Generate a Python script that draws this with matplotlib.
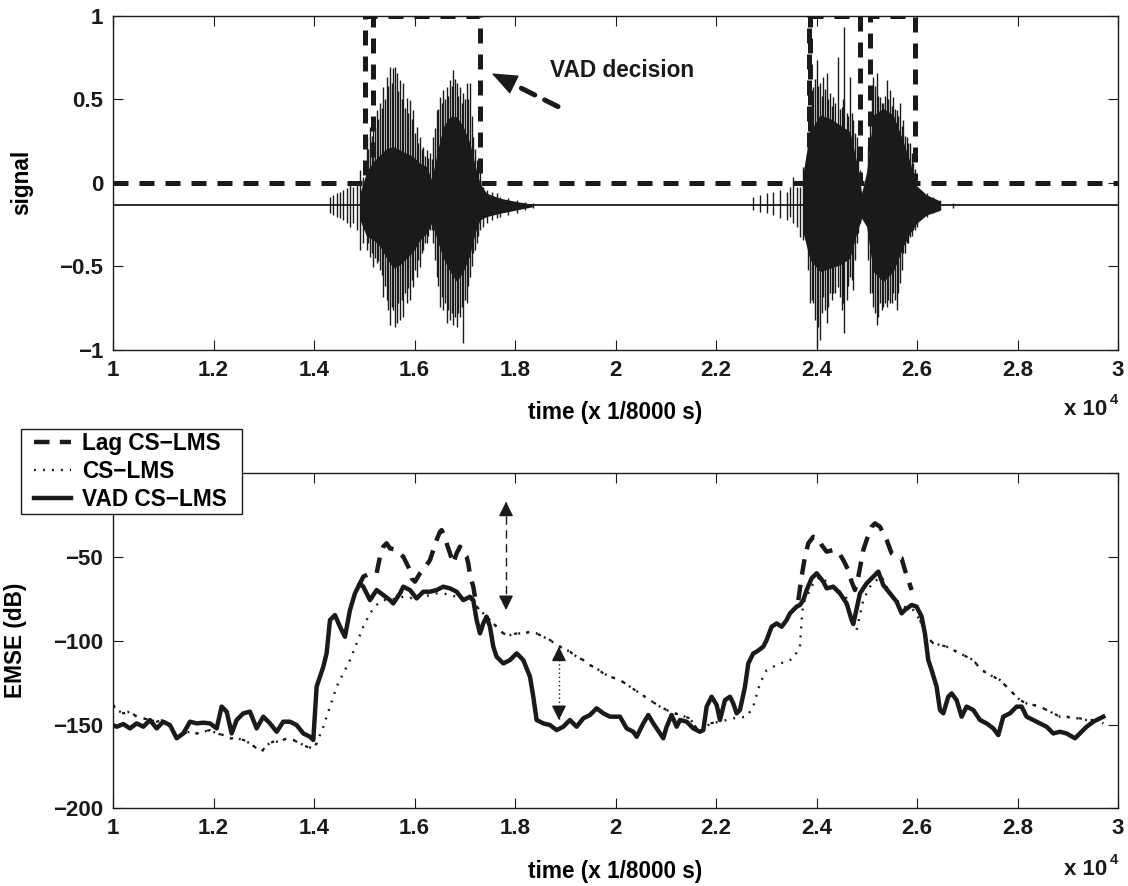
import numpy as np
import matplotlib
matplotlib.use('Agg')
import matplotlib.pyplot as plt
from matplotlib.lines import Line2D
from matplotlib.patches import Rectangle

plt.rcParams['font.family'] = ['Liberation Sans', 'DejaVu Sans']
plt.rcParams['font.weight'] = 'bold'
plt.rcParams['axes.labelweight'] = 'bold'

# ---------------- top panel data ----------------
x_ticks = [10000, 12000, 14000, 16000, 18000, 20000, 22000, 24000, 26000, 28000, 30000]
x_ticklabels = ['1', '1.2', '1.4', '1.6', '1.8', '2', '2.2', '2.4', '2.6', '2.8', '3']
sig_yticks = [-1, -0.5, 0, 0.5, 1]
sig_yticklabels = ['\u22121', '\u22120.5', '0', '0.5', '1']

sig_baseline = -0.135

# speech bursts: spike positions, spike tops and spike bottoms
spk_t = [14318, 14384, 14451, 14517, 14583, 14650, 14716, 14782, 14849, 14915, 14981,
         15048, 15114, 15180, 15247, 15313, 15379, 15446, 15512, 15578, 15611, 15645,
         15711, 15777, 15844, 15910, 15976, 16043, 16109, 16175, 16242, 16308, 16374,
         16441, 16507, 16573, 16640, 16706, 16772, 16839, 16905, 16958, 17038, 17104,
         17170, 17237, 17303, 17369, 17435, 17535, 17635, 17701, 17867, 18033, 18198, 18364,
         22742, 22875, 23008, 23140, 23273, 23406, 23472, 23538, 23605, 23671, 23737,
         23804, 23870, 23936, 24003, 24069, 24135, 24202, 24268, 24334, 24434, 24500,
         24553, 24600, 24666, 24732, 24799, 24865, 24931, 24998, 25064, 25130, 25197,
         25263, 25329, 25396, 25462, 25528, 25595, 25661, 25727, 25794, 25860, 25926,
         25992, 26059, 26192, 26324, 26457, 26722]
spk_hi = [-0.082, -0.072, -0.062, -0.052, -0.042, -0.032, -0.013, -0.023, 0.007, 0.077, 0.037,
          0.277, 0.336, 0.376, 0.436, 0.476, 0.576, 0.635, 0.695, 0.685, 0.695, 0.655,
          0.616, 0.596, 0.506, 0.496, 0.436, 0.336, 0.277, 0.217, 0.197, 0.177, 0.277,
          0.436, 0.516, 0.556, 0.576, 0.616, 0.675, 0.596, 0.576, 0.536, 0.596, 0.596,
          0.277, 0.137, 0.097, -0.023, -0.042, -0.052, -0.062, -0.082, -0.092, -0.102, -0.112, -0.118,
          -0.082, -0.072, -0.062, -0.052, -0.042, -0.052, -0.023, 0.037, -0.023, -0.023, 0.097,
          0.177, 0.396, 0.576, 0.735, 0.596, 0.635, 0.655, 0.536, 0.516, 0.755, 0.456,
          0.934, 0.416, 0.635, 0.376, 0.277, 0.077, -0.042, 0.057, 0.376, 0.635, 0.655,
          0.516, 0.476, 0.616, 0.556, 0.516, 0.436, 0.476, 0.376, 0.277, 0.237, 0.117,
          -0.023, -0.042, -0.062, -0.082, -0.102, -0.118]
spk_lo = [-0.182, -0.192, -0.202, -0.212, -0.222, -0.242, -0.262, -0.242, -0.282, -0.401, -0.361,
          -0.401, -0.441, -0.501, -0.481, -0.521, -0.680, -0.700, -0.850, -0.760, -0.860, -0.840,
          -0.820, -0.800, -0.720, -0.700, -0.621, -0.561, -0.501, -0.401, -0.361, -0.282, -0.361,
          -0.561, -0.740, -0.760, -0.840, -0.820, -0.850, -0.860, -0.800, -0.960, -0.720, -0.561,
          -0.421, -0.361, -0.282, -0.262, -0.242, -0.222, -0.212, -0.202, -0.192, -0.182, -0.162, -0.152,
          -0.162, -0.172, -0.182, -0.192, -0.212, -0.222, -0.202, -0.242, -0.262, -0.322, -0.341,
          -0.361, -0.720, -0.720, -0.990, -0.940, -0.680, -0.840, -0.660, -0.660, -0.621, -0.760,
          -0.900, -0.700, -0.561, -0.640, -0.361, -0.242, -0.202, -0.242, -0.660, -0.740, -0.850,
          -0.720, -0.740, -0.740, -0.720, -0.660, -0.760, -0.601, -0.421, -0.361, -0.322, -0.282,
          -0.262, -0.222, -0.202, -0.182, -0.162, -0.152]

# shorter spikes between the tall ones
spk_mid_t = [15081, 15147, 15213, 15280, 15346, 15413, 15479, 15545, 15678, 15744, 15810,
             15877, 15943, 16009, 16076, 16142, 16208, 16275, 16341, 16407, 16474, 16540,
             16606, 16673, 16739, 16805, 16872, 16938, 17004, 17071, 17137, 17204, 17270,
             23837, 23903, 23969, 24036, 24102, 24168, 24235, 24301, 24367, 24467, 24533,
             24633, 24699, 24765, 24832, 25031, 25097, 25164, 25230, 25296, 25363, 25429,
             25495, 25562, 25628, 25694, 25761, 25827, 25893, 25959]
spk_mid_hi = [0.20, 0.28, 0.33, 0.38, 0.45, 0.50, 0.58, 0.60, 0.55, 0.50, 0.45,
              0.42, 0.38, 0.30, 0.24, 0.20, 0.16, 0.15, 0.14, 0.33, 0.44, 0.48,
              0.50, 0.52, 0.58, 0.62, 0.52, 0.48, 0.50, 0.50, 0.40, 0.20, 0.10,
              0.28, 0.48, 0.62, 0.58, 0.52, 0.56, 0.50, 0.46, 0.48, 0.44, 0.50,
              0.40, 0.42, 0.30, 0.16, 0.22, 0.50, 0.58, 0.52, 0.48, 0.52, 0.50,
              0.46, 0.44, 0.40, 0.34, 0.28, 0.24, 0.18, 0.08]
spk_mid_lo = [-0.36, -0.42, -0.45, -0.47, -0.55, -0.62, -0.76, -0.74, -0.72, -0.70, -0.66,
              -0.63, -0.58, -0.52, -0.46, -0.42, -0.36, -0.32, -0.28, -0.46, -0.62, -0.68,
              -0.72, -0.76, -0.78, -0.80, -0.78, -0.74, -0.70, -0.62, -0.50, -0.40, -0.32,
              -0.52, -0.70, -0.82, -0.86, -0.78, -0.76, -0.74, -0.70, -0.66, -0.68, -0.72,
              -0.62, -0.58, -0.46, -0.30, -0.46, -0.66, -0.78, -0.80, -0.76, -0.72, -0.70,
              -0.72, -0.70, -0.66, -0.52, -0.42, -0.36, -0.32, -0.28]

# dense core of the bursts
core1_t = [14915, 15048, 15180, 15313, 15446, 15578, 15711, 15844, 15976, 16109, 16242, 16341,
           16441, 16573, 16706, 16839, 16971, 17104, 17204, 17303, 17435, 17701, 18033, 18364]
core1_hi = [-0.062, 0.067, 0.127, 0.167, 0.207, 0.217, 0.197, 0.177, 0.157, 0.117, 0.097, 0.017,
            0.167, 0.336, 0.396, 0.396, 0.336, 0.237, 0.107, -0.003, -0.062, -0.092, -0.112, -0.128]
core1_lo = [-0.222, -0.321, -0.341, -0.381, -0.451, -0.511, -0.491, -0.451, -0.411, -0.341, -0.302, -0.242,
            -0.331, -0.451, -0.531, -0.591, -0.531, -0.431, -0.302, -0.222, -0.202, -0.182, -0.162, -0.142]
core2_t = [23737, 23870, 24069, 24268, 24467, 24666, 24799, 24898, 24998, 25130, 25329, 25528,
           25727, 25860, 25992, 26192, 26457]
core2_hi = [0.067, 0.306, 0.406, 0.386, 0.346, 0.306, 0.127, -0.062, 0.067, 0.406, 0.446, 0.406,
            0.247, 0.127, -0.017, -0.072, -0.108]
core2_lo = [-0.302, -0.461, -0.531, -0.511, -0.491, -0.451, -0.302, -0.212, -0.262, -0.531, -0.591, -0.531,
            -0.381, -0.302, -0.242, -0.192, -0.165]

# VAD decision (step function) and second detector's rising edges
vad_t = [10000, 15010, 17300, 23850, 24870, 25070, 25970, 30000]
vad_v = [0, 1, 0, 1, 0, 1, 0, 0]
vad2_on = [15170, 23880]

# ---------------- bottom panel data ----------------
emse_yticks = [-200, -150, -100, -50, 0]
emse_yticklabels = ['\u2212200', '\u2212150', '\u2212100', '\u221250', '']

vad_cs_t = [10000, 10073, 10205, 10338, 10471, 10603, 10736, 10869, 11001, 11134, 11267, 11399,
            11532, 11665, 11797, 11930, 12063, 12162, 12262, 12361, 12461, 12593, 12726, 12859,
            12991, 13124, 13257, 13389, 13522, 13654, 13787, 13920, 13986, 14052, 14185, 14251,
            14318, 14417, 14517, 14616, 14716, 14815, 14915, 14981, 15114, 15246, 15379, 15512,
            15578, 15711, 15777, 15910, 16042, 16175, 16308, 16440, 16573, 16706, 16838, 16971,
            17104, 17170, 17236, 17303, 17369, 17435, 17502, 17568, 17634, 17767, 17900, 18033,
            18165, 18298, 18364, 18430, 18563, 18696, 18828, 18961, 19093, 19226, 19359, 19492,
            19624, 19757, 19890, 20089, 20222, 20354, 20421, 20553, 20653, 20752, 20885, 20951,
            21018, 21117, 21217, 21283, 21416, 21548, 21681, 21747, 21814, 21913, 22013, 22079,
            22178, 22278, 22344, 22411, 22477, 22576, 22643, 22742, 22809, 22941, 23008, 23107,
            23207, 23306, 23406, 23472, 23538, 23605, 23671, 23737, 23804, 23903, 24003, 24135,
            24202, 24334, 24467, 24600, 24699, 24732, 24865, 24998, 25097, 25230, 25329, 25462,
            25595, 25694, 25760, 25893, 25992, 26092, 26158, 26224, 26291, 26390, 26457, 26523,
            26622, 26689, 26788, 26888, 26987, 27120, 27253, 27385, 27518, 27618, 27717, 27850,
            27982, 28082, 28181, 28314, 28446, 28579, 28712, 28844, 28977, 29143, 29242, 29375,
            29508, 29640, 29707]
vad_cs_v = [-150.3, -151.3, -149.7, -152.3, -149.3, -151.3, -147.3, -152.3, -148.3, -150.3, -158.2, -155.3,
            -148.3, -149.3, -148.9, -149.3, -152.3, -139.3, -142.3, -155.3, -147.3, -143.3, -142.3, -152.3,
            -145.3, -149.3, -154.3, -148.3, -148.3, -150.3, -155.3, -157.3, -159.2, -127.4, -115.5, -107.5,
            -87.6, -84.6, -91.6, -97.6, -81.6, -71.7, -65.7, -67.7, -75.7, -69.7, -72.7, -75.7,
            -77.7, -71.7, -67.7, -69.7, -74.7, -70.7, -70.7, -69.7, -67.7, -68.7, -70.7, -75.7,
            -73.7, -75.7, -87.6, -95.6, -89.6, -85.6, -91.6, -103.5, -109.5, -113.5, -111.5, -107.5,
            -111.5, -121.4, -133.4, -147.3, -149.3, -150.3, -153.3, -151.3, -147.3, -151.3, -146.3, -144.3,
            -140.3, -143.3, -145.3, -145.3, -152.3, -154.3, -157.3, -149.3, -144.3, -149.3, -155.3, -158.2,
            -151.3, -144.3, -151.3, -147.3, -148.3, -152.3, -154.3, -153.3, -139.3, -133.4, -138.3, -147.3,
            -135.4, -133.4, -137.4, -143.3, -141.3, -127.5, -113.5, -107.5, -106.5, -103.5, -99.5, -91.6,
            -89.6, -91.6, -87.6, -83.6, -81.6, -79.6, -78.6, -75.7, -69.7, -62.7, -59.7, -64.7,
            -68.7, -67.7, -71.7, -77.7, -87.6, -90.0, -71.7, -65.7, -62.7, -58.7, -66.7, -71.7,
            -76.7, -83.6, -81.6, -78.6, -79.6, -85.6, -95.6, -111.5, -117.5, -127.4, -141.3, -143.3,
            -133.4, -131.4, -135.4, -145.3, -139.3, -141.3, -147.3, -149.3, -152.3, -156.3, -145.3, -143.3,
            -139.3, -139.3, -145.3, -147.3, -149.3, -151.3, -155.3, -154.3, -155.3, -158.2, -155.3, -151.3,
            -148.3, -146.3, -145.3]

cs_t = [10000, 10073, 10205, 10338, 10471, 10603, 10736, 10869, 11001, 11134, 11267, 11399,
        11532, 11665, 11797, 11930, 12063, 12195, 12328, 12461, 12593, 12726, 12859, 12958,
        13058, 13190, 13323, 13456, 13588, 13721, 13853, 13986, 14052, 14185, 14318, 14450,
        14583, 14716, 14848, 14981, 15114, 15246, 15379, 15512, 15645, 15777, 15910, 16042,
        16175, 16308, 16440, 16573, 16706, 16838, 16971, 17104, 17236, 17369, 17502, 17634,
        17767, 17900, 18033, 18165, 18298, 18430, 18563, 18696, 18828, 18961, 19093, 19226,
        19359, 19492, 19624, 19757, 19890, 20089, 20288, 20487, 20686, 20885, 21084, 21283,
        21482, 21681, 21880, 22079, 22344, 22609, 22742, 22875, 23008, 23140, 23273, 23406,
        23538, 23671, 23704, 23737, 23804, 23936, 24069, 24202, 24334, 24467, 24600, 24732,
        24799, 24931, 25064, 25197, 25296, 25396, 25528, 25661, 25794, 25926, 26059, 26192,
        26324, 26457, 26590, 26722, 26855, 26987, 27120, 27253, 27385, 27518, 27651, 27784,
        27916, 28049, 28181, 28314, 28446, 28579, 28712, 28844, 28977, 29110, 29242, 29375,
        29508, 29640, 29707]
cs_v = [-138.3, -141.3, -143.3, -142.3, -145.3, -146.3, -147.3, -148.3, -147.3, -151.3, -157.3, -155.3,
        -154.3, -155.3, -154.3, -153.3, -155.3, -156.3, -158.2, -158.2, -159.2, -161.2, -164.2, -166.2,
        -162.2, -160.2, -160.2, -158.2, -159.2, -161.2, -163.2, -164.2, -161.2, -151.3, -139.3, -127.4,
        -119.4, -111.5, -101.5, -91.6, -83.6, -78.6, -75.7, -75.7, -74.7, -73.7, -74.7, -72.7,
        -73.7, -72.7, -71.7, -71.7, -72.7, -73.7, -74.7, -74.7, -79.6, -83.6, -87.6, -91.6,
        -95.6, -96.6, -95.6, -95.6, -94.6, -95.6, -97.6, -99.5, -102.5, -104.5, -106.5, -109.5,
        -111.5, -114.5, -116.5, -119.4, -121.4, -123.4, -127.4, -131.4, -135.4, -139.3, -142.3, -144.3,
        -146.3, -155.3, -149.3, -148.3, -146.3, -145.3, -139.3, -125.4, -117.5, -115.5, -113.5, -112.5,
        -110.5, -103.5, -87.6, -77.7, -73.7, -65.7, -61.7, -64.7, -67.7, -70.7, -74.7, -91.6,
        -93.6, -75.7, -67.7, -63.7, -61.7, -67.7, -73.7, -77.7, -80.6, -81.6, -87.6, -97.6,
        -101.5, -102.5, -103.5, -105.5, -107.5, -109.5, -111.5, -116.5, -119.4, -121.4, -123.4, -127.4,
        -131.4, -135.4, -137.4, -138.3, -139.3, -141.3, -143.3, -145.3, -145.3, -146.3, -146.3, -147.3,
        -147.3, -148.3, -149.3]

# Lag CS-LMS where it leaves the CS-LMS curve
lag1_t = [14882, 14981, 15114, 15246, 15313, 15379, 15445, 15512, 15645, 15777, 15843, 15910,
          15943, 16009, 16109, 16241, 16308, 16374, 16440, 16507, 16540, 16573, 16639, 16706,
          16772, 16838, 16905, 16971, 17037, 17071, 17104, 17170, 17203]
lag1_v = [-67.7, -61.7, -59.7, -59.7, -49.8, -43.8, -41.8, -44.8, -45.8, -49.8, -53.8, -57.8,
          -62.7, -64.7, -59.7, -54.8, -51.8, -45.8, -39.8, -34.9, -33.9, -35.9, -41.8, -47.8,
          -53.8, -47.8, -43.8, -47.8, -49.8, -53.8, -60.7, -67.7, -73.7]
lag2_t = [23638, 23704, 23770, 23837, 23936, 24036, 24102, 24202, 24334, 24434, 24533, 24633,
          24699, 24765, 24832, 24931, 24998, 25097, 25163, 25263, 25396, 25495, 25595, 25694,
          25760, 25827, 25893]
lag2_v = [-75.7, -61.7, -49.8, -41.8, -37.9, -38.8, -42.8, -46.8, -45.8, -46.8, -51.8, -57.8,
          -64.7, -69.7, -61.7, -45.8, -39.8, -31.9, -29.9, -31.9, -39.8, -47.8, -49.8, -50.8,
          -57.8, -63.7, -69.7]
# spans (in samples) where Lag CS-LMS coincides with CS-LMS
lag_on_cs = [(10000, 14100), (17200, 22300), (25950, 29800)]

# annotation arrows (bottom)
gap_arrow1 = (17821, -17.0, -81.6)
gap_arrow2 = (18875, -103.5, -147.3)
# VAD decision arrow (top): tail and tip
vad_arrow_tail = (18856, 0.456)
vad_arrow_tip = (17536, 0.655)

K = '#1a1a1a'
FS = 16.3
TFS = 16.0

fig = plt.figure(figsize=(11.28, 8.86), dpi=100)
ax1 = fig.add_axes([113/1128, 1-350/886, 1005/1128, 334.3/886])
ax2 = fig.add_axes([113/1128, 1-808.3/886, 1005/1128, 335/886])

# ---- top ----
ax1.plot([x_ticks[0], x_ticks[-1]], [sig_baseline, sig_baseline], color=K, lw=1.3)
ax1.fill_between(core1_t, core1_lo, core1_hi, color=K, lw=0)
ax1.fill_between(core2_t, core2_lo, core2_hi, color=K, lw=0)
ax1.vlines(spk_t, spk_lo, spk_hi, color=K, lw=1.0)
ax1.vlines(spk_mid_t, spk_mid_lo, spk_mid_hi, color=K, lw=1.0)
ax1.plot(vad_t, vad_v, drawstyle='steps-post', color=K, lw=3.6, ls=(0, (3, 2.2)))
ax1.vlines(vad2_on, 0, 1, color=K, lw=3.6, ls=(0, (3, 2.2)))

ax1.annotate('', xy=vad_arrow_tip, xytext=vad_arrow_tail,
             arrowprops=dict(arrowstyle='-', color=K, lw=3.6, ls=(0, (3, 2.2)),
                             shrinkA=0, shrinkB=12))
ax1.annotate('', xy=vad_arrow_tip, xytext=(vad_arrow_tip[0] + 300, vad_arrow_tip[1] - 0.045),
             arrowprops=dict(arrowstyle='-|>,head_length=0.55,head_width=0.22', color=K,
                             lw=1, mutation_scale=30, shrinkA=0, shrinkB=0))
ax1.text(18696, 0.675, 'VAD decision', fontsize=FS, fontweight='bold', va='center', ha='left', color=K)

ax1.set_xlim(10000, 30000)
ax1.set_ylim(-1, 1)
ax1.set_xticks(x_ticks)
ax1.set_xticklabels(x_ticklabels)
ax1.set_yticks(sig_yticks)
ax1.set_yticklabels(sig_yticklabels)
ax1.set_ylabel('signal', fontsize=FS, fontweight='bold')
ax1.yaxis.set_label_coords(-0.0796, 0.5)
ax1.set_xlabel('time (x 1/8000 s)', fontsize=FS, fontweight='bold')
ax1.xaxis.set_label_coords(0.5, -0.1855)
ax1.xaxis.label.set_va('center')

# ---- bottom ----
cs_t_arr = np.array(cs_t)
cs_v_arr = np.array(cs_v)
ax2.plot(cs_t, cs_v, color=K, lw=1.7, ls=(0, (0.8, 3.0)))
for a, b in lag_on_cs:
    m = (cs_t_arr >= a) & (cs_t_arr <= b)
    ax2.plot(cs_t_arr[m], cs_v_arr[m], color=K, lw=1.6, ls=(0, (1.5, 4.0)))
ax2.plot(lag1_t, lag1_v, color=K, lw=3.2, ls=(0, (3.5, 2.3)))
ax2.plot(lag2_t, lag2_v, color=K, lw=3.2, ls=(0, (3.5, 2.3)))
ax2.plot(vad_cs_t, vad_cs_v, color=K, lw=3.2, solid_joinstyle='round')

for (t, top, bot), st in ((gap_arrow1, (0, (6, 4))), (gap_arrow2, (0, (1, 2)))):
    ax2.plot([t, t], [top, bot], color=K, lw=1.0, ls=st)
    ax2.annotate('', xy=(t, top), xytext=(t, top - 3),
                 arrowprops=dict(arrowstyle='-|>', color=K, lw=1, mutation_scale=22, shrinkA=0, shrinkB=0))
    ax2.annotate('', xy=(t, bot), xytext=(t, bot + 3),
                 arrowprops=dict(arrowstyle='-|>', color=K, lw=1, mutation_scale=22, shrinkA=0, shrinkB=0))

ax2.set_xlim(10000, 30000)
ax2.set_ylim(-200, 0)
ax2.set_xticks(x_ticks)
ax2.set_xticklabels(x_ticklabels)
ax2.set_yticks(emse_yticks)
ax2.set_yticklabels(emse_yticklabels)
ax2.set_ylabel('EMSE (dB)', fontsize=FS, fontweight='bold')
ax2.yaxis.set_label_coords(-0.0856, 0.5)
ax2.set_xlabel('time (x 1/8000 s)', fontsize=FS, fontweight='bold')
ax2.xaxis.set_label_coords(0.5, -0.190)
ax2.xaxis.label.set_va('center')

# legend box + entries (figure level, over the axes frame)
box = Rectangle((21/1128, 1-514.3/886), 220.7/1128, 85/886, transform=fig.transFigure,
                facecolor='white', edgecolor=K, lw=1.0, zorder=9)
fig.add_artist(box)
handles = [Line2D([], [], color=K, lw=3.2, ls=(0, (3.5, 2.3))),
           Line2D([], [], color=K, lw=1.7, ls=(0, (0.8, 3.0))),
           Line2D([], [], color=K, lw=3.2)]
labels = ['Lag CS\u2212LMS', 'CS\u2212LMS', 'VAD CS\u2212LMS']
leg = fig.legend(handles, labels, loc='upper left', bbox_to_anchor=(34/1128, 1-432/886),
                 frameon=False, borderaxespad=0, borderpad=0, handlelength=1.65,
                 handletextpad=0.48, labelspacing=0.22, prop={'size': FS, 'weight': 'bold'})
leg.set_zorder(10)

for ax, base_y, sup_y in ((ax1, -0.1944, -0.1615), (ax2, -0.1985, -0.166)):
    ax.tick_params(direction='in', top=True, right=True, length=7, width=0.8,
                   labelsize=TFS, pad=7, colors=K)
    for lab in ax.get_xticklabels() + ax.get_yticklabels():
        lab.set_fontweight('bold')
    for s in ax.spines.values():
        s.set_linewidth(1.0)
        s.set_color(K)
    ax.text(0.989, base_y, 'x 10', transform=ax.transAxes, ha='right', va='baseline',
            fontsize=TFS, fontweight='bold', color=K)
    ax.text(0.992, sup_y, '4', transform=ax.transAxes, ha='left', va='baseline',
            fontsize=10.5, fontweight='bold', color=K)

fig.savefig('out.png', dpi=100, facecolor='white')
